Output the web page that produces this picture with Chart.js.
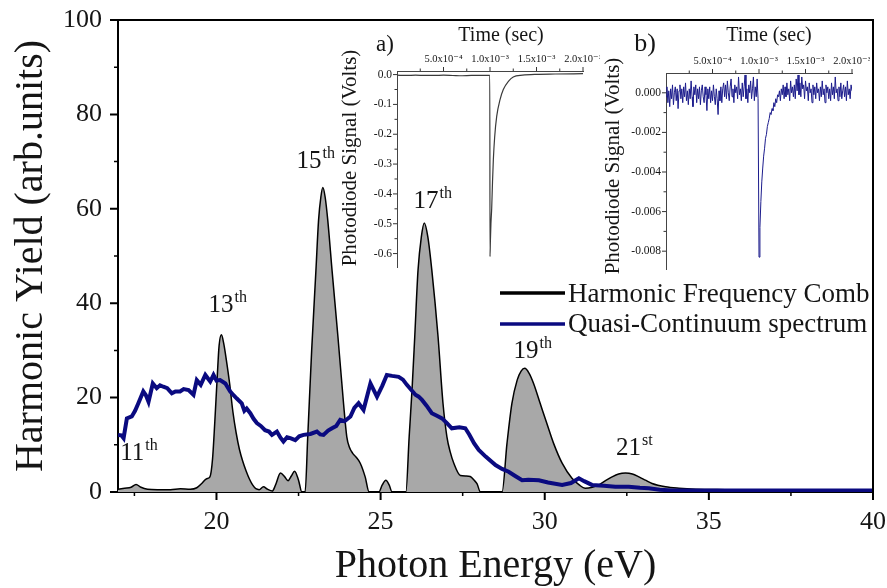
<!DOCTYPE html>
<html>
<head>
<meta charset="utf-8">
<script src="https://cdn.jsdelivr.net/npm/chart.js@4.4.0/dist/chart.umd.min.js"></script>
<style>
  body { margin: 0; background: #fff; }
  #wrap { position: relative; width: 887px; height: 588px; }
  #wrap canvas { position: absolute; }
</style>
</head>
<body>
<div id="wrap">
  <canvas id="main" width="887" height="588" style="left:0;top:0"></canvas>
  <canvas id="insetA" width="270" height="270" style="left:330px;top:20px"></canvas>
  <canvas id="insetB" width="270" height="270" style="left:600px;top:20px"></canvas>
</div>
<script>
// ---- MAIN SPECTRUM DATA ----
const combEnergy = [17.0, 17.2, 17.4, 17.55, 17.7, 17.9, 18.2, 18.6, 18.9, 19.2, 19.4, 19.55, 19.7, 19.8, 19.88, 19.95, 20.02, 20.08, 20.15, 20.22, 20.3, 20.4, 20.5, 20.6, 20.7, 20.8, 20.9, 21.0, 21.1, 21.2, 21.3, 21.43, 21.55, 21.7, 21.8, 21.95, 22.08, 22.18, 22.28, 22.38, 22.5, 22.6,
  22.7, 22.78, 22.9, 23.03, 23.11, 23.18, 23.24, 23.31, 23.39, 23.52, 23.7, 23.87, 23.97, 24.05, 24.15, 24.25, 24.38, 24.53, 24.65, 24.95, 25.05, 25.16, 25.26, 25.35,
  25.77, 25.87, 25.96, 26.04, 26.14, 26.24, 26.33, 26.44, 26.56, 26.75, 26.9, 27.02, 27.12, 27.23, 27.43, 27.6, 27.73, 27.85, 27.94, 28.04,
  28.7, 28.85, 29.0, 29.16, 29.28, 29.39, 29.52, 29.66, 29.86, 30.06, 30.27, 30.53, 30.83, 31.05, 31.23, 31.45, 31.65, 31.85, 32.05, 32.25, 32.46, 32.67, 32.87, 33.07, 33.27, 33.68, 34.09, 34.6, 35.5, 37, 38.5, 40];
const combYield = [0.6, 0.8, 1.0, 1.6, 1.0, 0.6, 0.5, 0.5, 0.7, 0.6, 0.9, 1.8, 2.8, 3.2, 7, 15, 24, 31, 33.3, 31.5, 28, 23, 17, 12.5, 9, 6.5, 4.5, 2.8, 1.5, 0.7, 0.5, 1.1, 0.6, 0.2, 1.5, 4, 3.2, 2.4, 3.4, 4.4, 2.5, 0,
  0, 11.7, 30, 47, 57.6, 62.5, 64.5, 62.5, 57.6, 47, 32.9, 18.8, 11.7, 9.5, 8.2, 7.4, 6.1, 3.2, 0, 0, 1.5, 2.5, 1.5, 0,
  0, 11.7, 22, 32.9, 47, 54, 57, 54, 47, 32.9, 18.8, 11.7, 8.5, 6.1, 3.5, 3.4, 3.3, 2.5, 1.7, 0,
  0, 10.3, 18.8, 23.7, 25.6, 26.2, 25.2, 23, 18.8, 14.6, 10.3, 6.1, 2.9, 1.5, 0.8, 1.0, 1.5, 2.4, 3.2, 3.8, 4.0, 3.8, 3.2, 2.5, 1.8, 1.1, 0.8, 0.6, 0.5, 0.4, 0.4, 0.4];

const qcEnergy = [17.0, 17.1, 17.17, 17.27, 17.42, 17.52, 17.62, 17.77, 17.85, 17.93, 18.06, 18.18, 18.28, 18.38, 18.5, 18.64, 18.75, 18.89, 19.0, 19.15, 19.3, 19.4, 19.52, 19.66, 19.81, 19.91, 20.0, 20.11, 20.27, 20.42, 20.52, 20.62, 20.77, 20.85, 20.92, 21.03, 21.13, 21.23, 21.35, 21.48, 21.6, 21.69, 21.84, 21.95, 22.04, 22.15, 22.25, 22.4, 22.52, 22.65, 22.86, 23.06, 23.16, 23.26, 23.4, 23.52, 23.65, 23.77, 23.9, 24.08, 24.2, 24.33, 24.48, 24.69, 24.89, 25.05, 25.19, 25.35, 25.55, 25.68, 25.8, 25.95, 26.06, 26.16, 26.26, 26.4, 26.56, 26.7, 26.87, 27.02, 27.17, 27.4, 27.58, 27.7, 27.85, 27.99, 28.2, 28.5, 28.7, 28.9, 29.1, 29.31, 29.5, 29.82, 30.1, 30.53, 30.8, 31.04, 31.2, 31.44, 31.8, 32.15, 32.56, 32.9, 33.17, 33.5, 33.88, 35, 37, 40];
const qcYield = [12.1, 12.0, 11.4, 15.6, 16.0, 17.2, 18.8, 21.3, 20.5, 19.1, 23.0, 22.0, 22.6, 22.3, 22.0, 20.9, 21.3, 21.3, 21.8, 21.6, 20.6, 23.7, 22.7, 24.8, 23.4, 24.8, 23.6, 23.7, 23.0, 21.3, 20.5, 19.8, 18.8, 17.2, 17.7, 16.7, 15.5, 14.6, 14.0, 13.1, 12.8, 12.1, 12.8, 11.5, 10.7, 11.6, 11.4, 11.0, 11.8, 12.1, 12.3, 12.8, 12.2, 12.1, 13.0, 13.5, 14.0, 15.3, 15.0, 16.0, 17.8, 18.8, 17.4, 23.0, 20.2, 22.5, 24.8, 24.6, 24.4, 23.8, 22.7, 21.5, 20.6, 20.2, 19.5, 18.3, 16.7, 16.2, 15.6, 14.6, 13.5, 13.7, 13.5, 12.2, 10.3, 8.9, 7.5, 5.7, 4.9, 4.3, 3.4, 2.5, 2.6, 2.5, 2.0, 1.5, 1.9, 2.9, 2.3, 1.5, 1.3, 1.1, 1.1, 0.9, 0.8, 0.5, 0.3, 0.3, 0.3, 0.3];

const energyTicks = [20, 25, 30, 35, 40];
const energyMinor = [17.5, 22.5, 27.5, 32.5, 37.5];
const yieldTicks = [0, 20, 40, 60, 80, 100];
const yieldMinor = [10, 30, 50, 70, 90];

const seriesNames = ['Harmonic Frequency Comb', 'Quasi-Continuum spectrum'];
const orders = [['11', 'th'], ['13', 'th'], ['15', 'th'], ['17', 'th'], ['19', 'th'], ['21', 'st']];
const orderAt = [[17.07, 6.8], [19.76, 38.1], [22.44, 68.6], [26.0, 60.2], [29.05, 28.4], [32.17, 7.8]];

// ---- INSET a) : photodiode trace, harmonic comb ----
const aTime = [0, 1e-4, 2e-4, 3e-4, 4e-4, 5e-4, 6e-4, 7e-4, 8e-4, 9e-4, 0.998e-3, 1.0e-3, 1.004e-3, 1.01e-3, 1.018e-3, 1.027e-3, 1.036e-3, 1.05e-3, 1.072e-3, 1.108e-3, 1.143e-3, 1.2e-3, 1.25e-3, 1.35e-3, 1.5e-3, 1.7e-3, 2.0e-3];
const aVolts = [-0.002, -0.003, -0.002, -0.003, -0.003, -0.002, -0.003, -0.004, -0.003, -0.003, -0.003, -0.61, -0.56, -0.50, -0.45, -0.36, -0.285, -0.21, -0.14, -0.084, -0.05, -0.022, -0.008, -0.002, 0.001, 0.002, 0.003];
const aTicksY = [0, -0.1, -0.2, -0.3, -0.4, -0.5, -0.6];
const aMinorY = [-0.05, -0.15, -0.25, -0.35, -0.45, -0.55];

// ---- INSET b) : photodiode trace, quasi-continuum (sampled every 10 us) ----
const bSignal = [
  -2e-4, 3e-4, -5e-4, 1e-4, -7e-4, 2e-4, -3e-4, 4e-4, -6e-4, 0,
  3e-4, -4e-4, 2e-4, -8e-4, 1e-4, 4e-4, -3e-4, 2e-4, -5e-4, 3e-4,
  -2e-4, 5e-4, -4e-4, 1e-4, -6e-4, 2e-4, -3e-4, 6e-4, -2e-4, -7e-4,
  3e-4, -1e-4, 4e-4, -5e-4, 2e-4, -3e-4, 3e-4, -6e-4, 1e-4, 4e-4,
  -2e-4, -5e-4, 3e-4, -1e-4, -9e-4, 2e-4, -3e-4, 3e-4, -5e-4, 1e-4,
  -4e-4, 4e-4, -2e-4, -6e-4, 2e-4, -3e-4, -11e-4, 1e-4, -4e-4, 3e-4,
  -5e-4, 2e-4, 5e-4, -2e-4, 4e-4, -3e-4, 6e-4, 0, -4e-4, 3e-4,
  7e-4, -2e-4, 2e-4, -5e-4, 4e-4, 0, 3e-4, -3e-4, 8e-4, -1e-4,
  2e-4, -4e-4, 5e-4, -2e-4, 3e-4, 9e-4, -3e-4, 2e-4, -5e-4, 4e-4,
  0, 6e-4, -3e-4, 2e-4, 8e-4, -4e-4, 3e-4, -2e-4, 7e-4, -3e-4,
  -83e-4,
  -68e-4, -55e-4, -45e-4, -38e-4, -32e-4, -28e-4, -23e-4, -21e-4, -17e-4, -15e-4,
  -13e-4, -10e-4, -11e-4, -8e-4, -9e-4, -5e-4, -7e-4, -3e-4, -5e-4, -1e-4,
  -2e-4, 1e-4, -4e-4, 2e-4, -1e-4, 4e-4, -3e-4, 3e-4, -2e-4, 5e-4,
  -1e-4, 2e-4, -4e-4, 6e-4, 0, 3e-4, -2e-4, 4e-4, -3e-4, 7e-4,
  1e-4, 9e-4, -1e-4, 5e-4, -2e-4, 8e-4, 2e-4, 4e-4, -3e-4, 6e-4,
  1e-4, 3e-4, -4e-4, 5e-4, 0, 2e-4, -5e-4, 4e-4, -1e-4, 3e-4,
  -3e-4, 5e-4, 0, 2e-4, -4e-4, 3e-4, -2e-4, 6e-4, -1e-4, 2e-4,
  -5e-4, 4e-4, 0, 3e-4, -3e-4, 2e-4, -4e-4, 5e-4, -1e-4, 3e-4,
  -3e-4, 8e-4, 0, 2e-4, -4e-4, 3e-4, -2e-4, 5e-4, -3e-4, 1e-4,
  4e-4, -2e-4, 3e-4, -4e-4, 6e-4, -1e-4, 2e-4, -3e-4, 4e-4, 1e-4
];
const bSampleStep = 1e-5;
const bTicksY = [0, -0.002, -0.004, -0.006, -0.008];
const bMinorY = [-0.001, -0.003, -0.005, -0.007];

const timeTicks = [5e-4, 1e-3, 1.5e-3, 2e-3];
const timeTickLabels = ['5.0x10\u207B\u2074', '1.0x10\u207B\u00B3', '1.5x10\u207B\u00B3', '2.0x10\u207B\u00B3'];
const timeMinor = [2.5e-4, 7.5e-4, 1.25e-3, 1.75e-3];

const SERIF = "'Liberation Serif', 'Times New Roman', 'DejaVu Serif', serif";
const INK = '#151515';

function pairs(xs, ys) {
  return xs.map((x, i) => ({ x: x, y: ys[i] }));
}

// no extra room for overhanging tick labels, the plot box is fixed
function noOverhang(s) {
  s.paddingLeft = 0;
  s.paddingRight = 0;
  s.paddingTop = 0;
  s.paddingBottom = 0;
}

// draws outward tick marks for the given values
function drawTicks(chart, id, values, len, width, color) {
  const s = chart.scales[id];
  const a = chart.chartArea;
  const ctx = chart.ctx;
  ctx.save();
  ctx.strokeStyle = color;
  ctx.lineWidth = width;
  ctx.beginPath();
  values.forEach(v => {
    const p = s.getPixelForValue(v);
    if (s.isHorizontal()) {
      const y0 = s.position === 'top' ? a.top : a.bottom;
      const dir = s.position === 'top' ? -1 : 1;
      ctx.moveTo(p, y0);
      ctx.lineTo(p, y0 + dir * len);
    } else {
      ctx.moveTo(a.left, p);
      ctx.lineTo(a.left - len, p);
    }
  });
  ctx.stroke();
  ctx.restore();
}

function label(ctx, str, x, y, size, rotate) {
  ctx.save();
  ctx.font = size + 'px ' + SERIF;
  ctx.fillStyle = INK;
  ctx.textAlign = 'center';
  ctx.textBaseline = 'middle';
  ctx.translate(x, y);
  if (rotate) ctx.rotate(-Math.PI / 2);
  ctx.fillText(str, 0, 0);
  ctx.restore();
}

// ------- MAIN CHART -------
const mainDecor = {
  id: 'mainDecor',
  afterDraw(chart) {
    const ctx = chart.ctx;
    const a = chart.chartArea;
    // top and right frame
    ctx.save();
    ctx.strokeStyle = '#000';
    ctx.lineWidth = 2;
    ctx.beginPath();
    ctx.moveTo(a.left, a.top);
    ctx.lineTo(a.right, a.top);
    ctx.lineTo(a.right, a.bottom);
    ctx.stroke();
    ctx.restore();

    drawTicks(chart, 'x', energyTicks, 8, 2, '#000');
    drawTicks(chart, 'x', energyMinor, 4, 1.5, '#000');
    drawTicks(chart, 'y', yieldTicks, 8, 2, '#000');
    drawTicks(chart, 'y', yieldMinor, 4, 1.5, '#000');

    // harmonic order labels
    const xs = chart.scales.x, ys = chart.scales.y;
    ctx.save();
    ctx.fillStyle = INK;
    ctx.textBaseline = 'alphabetic';
    orders.forEach((o, i) => {
      const px = xs.getPixelForValue(orderAt[i][0]);
      const py = ys.getPixelForValue(orderAt[i][1]);
      ctx.font = '25px ' + SERIF;
      ctx.fillText(o[0], px, py);
      const w = ctx.measureText(o[0]).width;
      ctx.font = '16px ' + SERIF;
      ctx.fillText(o[1], px + w + 1, py - 10);
    });
    ctx.restore();

    // legend
    const ds = chart.data.datasets;
    const legendY = [293, 324];
    const textY = [302, 332];
    ctx.save();
    ds.forEach((d, i) => {
      const k = seriesNames.indexOf(d.label);
      ctx.strokeStyle = d.borderColor;
      ctx.lineWidth = 3.5;
      ctx.beginPath();
      ctx.moveTo(500, legendY[k]);
      ctx.lineTo(565, legendY[k]);
      ctx.stroke();
      ctx.fillStyle = INK;
      ctx.font = '27px ' + SERIF;
      ctx.textBaseline = 'alphabetic';
      ctx.fillText(d.label, 568, textY[k]);
    });
    ctx.restore();
  }
};

const mainChart = new Chart(document.getElementById('main'), {
  type: 'line',
  data: {
    datasets: [{
      label: seriesNames[0],
      data: pairs(combEnergy, combYield),
      borderColor: '#000',
      backgroundColor: '#a8a8a8',
      borderWidth: 1.5,
      fill: 'origin',
      cubicInterpolationMode: 'monotone',
      pointRadius: 0,
      order: 2
    }, {
      label: seriesNames[1],
      data: pairs(qcEnergy, qcYield),
      borderColor: '#0a0a80',
      borderWidth: 4,
      fill: false,
      tension: 0,
      pointRadius: 0,
      order: 1
    }]
  },
  options: {
    responsive: false,
    animation: false,
    layout: { padding: { left: 0, right: 14, top: 20, bottom: 0 } },
    plugins: { legend: { display: false }, tooltip: { enabled: false } },
    scales: {
      x: {
        type: 'linear',
        min: 17,
        max: 40,
        afterBuildTicks: s => { s.ticks = energyTicks.map(v => ({ value: v })); },
        afterFit: s => { s.height = 96; noOverhang(s); },
        grid: { display: false, drawTicks: false },
        border: { display: true, color: '#000', width: 2 },
        ticks: { font: { family: SERIF, size: 26 }, color: INK, padding: 15, maxRotation: 0, autoSkip: false },
        title: { display: true, text: 'Photon Energy (eV)', color: INK, font: { family: SERIF, size: 40, lineHeight: 1 }, padding: { top: 0, bottom: 2 } }
      },
      y: {
        min: 0,
        max: 100,
        afterBuildTicks: s => { s.ticks = yieldTicks.map(v => ({ value: v })); },
        afterFit: s => { s.width = 118; noOverhang(s); },
        grid: { display: false, drawTicks: false },
        border: { display: true, color: '#000', width: 2 },
        ticks: { font: { family: SERIF, size: 26 }, color: INK, padding: 16 },
        title: { display: true, text: 'Harmonic Yield (arb.units)', color: INK, font: { family: SERIF, size: 40, lineHeight: 1 }, padding: { top: 11, bottom: 0 } }
      }
    }
  },
  plugins: [mainDecor]
});

// ------- INSETS -------
function insetDecor(tag, minorY, tagPos, tagSize, timePos, yTitlePos) {
  return {
    id: 'insetDecor',
    afterDraw(chart) {
      const ctx = chart.ctx;
      drawTicks(chart, 'x', timeTicks, 4, 1, '#333');
      drawTicks(chart, 'x', timeMinor, 2.5, 1, '#333');
      drawTicks(chart, 'y', chart.scales.y.ticks.map(t => t.value), 4, 1, '#333');
      drawTicks(chart, 'y', minorY, 2.5, 1, '#333');
      label(ctx, tag, tagPos[0], tagPos[1], tagSize, false);
      label(ctx, 'Time (sec)', timePos[0], timePos[1], 20, false);
      label(ctx, 'Photodiode Signal (Volts)', yTitlePos[0], yTitlePos[1], 21, true);
    }
  };
}

function insetOptions(yMin, yMax, yTicks, yDigits, yWidth, xHeight, pad) {
  return {
    responsive: false,
    animation: false,
    layout: { padding: pad },
    plugins: { legend: { display: false }, tooltip: { enabled: false } },
    scales: {
      x: {
        type: 'linear',
        position: 'top',
        min: 0,
        max: 2e-3,
        afterBuildTicks: s => { s.ticks = timeTicks.map(v => ({ value: v })); },
        afterFit: s => { s.height = xHeight; noOverhang(s); },
        grid: { display: false, drawTicks: false },
        border: { display: true, color: '#444', width: 1 },
        ticks: { font: { family: SERIF, size: 10.5 }, color: INK, padding: 5, maxRotation: 0, autoSkip: false,
          callback: (v, i) => timeTickLabels[i] }
      },
      y: {
        min: yMin,
        max: yMax,
        afterBuildTicks: s => { s.ticks = yTicks.map(v => ({ value: v })); },
        afterFit: s => { s.width = yWidth; noOverhang(s); },
        grid: { display: false, drawTicks: false },
        border: { display: true, color: '#444', width: 1 },
        ticks: { font: { family: SERIF, size: 11.5 }, color: INK, padding: 5,
          callback: v => v.toFixed(yDigits) }
      }
    }
  };
}

const insetA = new Chart(document.getElementById('insetA'), {
  type: 'line',
  data: {
    datasets: [{
      data: pairs(aTime, aVolts),
      borderColor: '#3a3a3a',
      borderWidth: 1.2,
      pointRadius: 0,
      tension: 0,
      cubicInterpolationMode: 'monotone'
    }]
  },
  options: insetOptions(-0.645, 0.012, aTicksY, 1, 67, 51, { left: 0, right: 17, top: 0, bottom: 23 }),
  plugins: [insetDecor('a)', aMinorY, [55, 25], 23, [171, 16], [20, 138])]
});

const bTime = bSignal.map((v, i) => i * bSampleStep);
const insetB = new Chart(document.getElementById('insetB'), {
  type: 'line',
  data: {
    datasets: [{
      data: pairs(bTime, bSignal),
      borderColor: '#1c1c8c',
      borderWidth: 1,
      pointRadius: 0,
      tension: 0
    }]
  },
  options: insetOptions(-0.0089, 0.001, bTicksY, 3, 66, 53, { left: 0, right: 18, top: 0, bottom: 21 }),
  plugins: [insetDecor('b)', bMinorY, [45, 24], 26, [169, 16], [13, 146])]
});
</script>
</body>
</html>
